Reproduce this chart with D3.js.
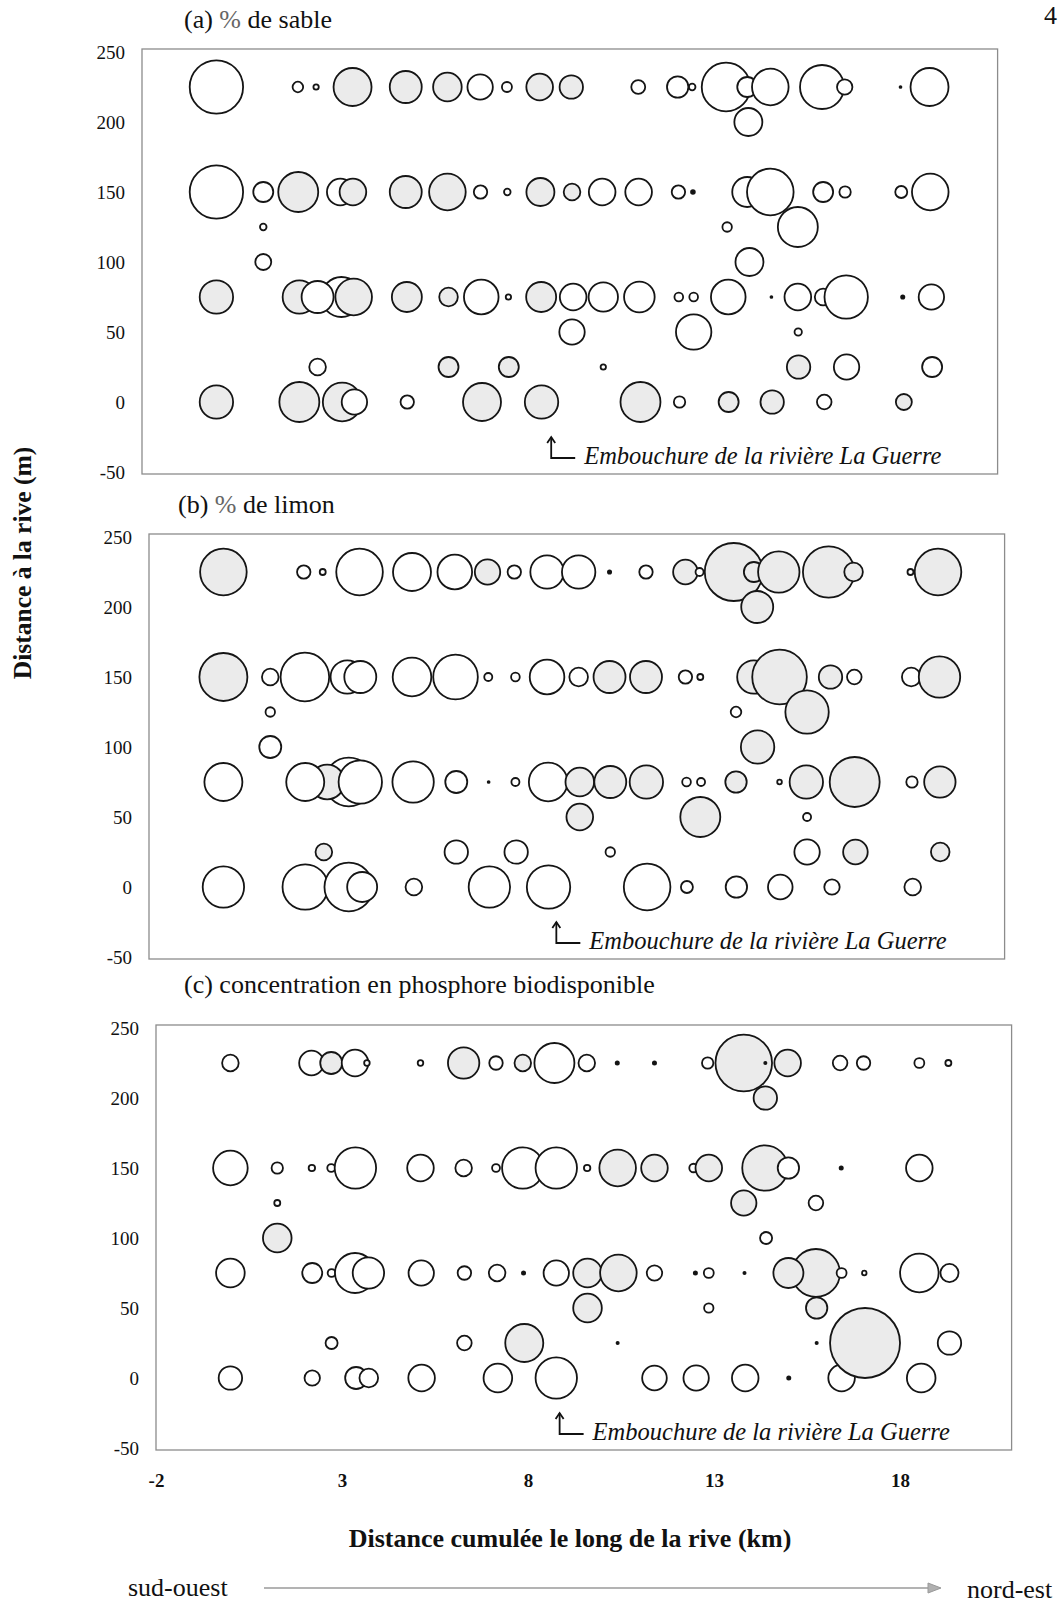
<!DOCTYPE html>
<html>
<head>
<meta charset="utf-8">
<script src="https://cdn.jsdelivr.net/npm/d3@7"></script>
<style>
  body { margin: 0; background: #fff; }
  svg text { font-family: "Liberation Serif", "Times New Roman", serif; fill: #111; }
</style>
</head>
<body>
<svg id="fig" width="1058" height="1604"></svg>
<script>
// Axis ticks
const xTicks = [-2, 3, 8, 13, 18];
const yTicks = [-50, 0, 50, 100, 150, 200, 250];

// Each sample: [distance along shore (km), distance from shore (m), value, shaded (1 = grey)]
// (a) % de sable
const sable = [
  [0, 225, 79.2, 0], [2.19, 225, 3.1, 0], [2.68, 225, 0.8, 0], [3.66, 225, 40.1, 1],
  [5.09, 225, 28.4, 1], [6.21, 225, 22.7, 1], [7.09, 225, 17.9, 0], [7.81, 225, 2.8, 0],
  [8.69, 225, 19.7, 1], [9.54, 225, 15.2, 1], [11.34, 225, 5.4, 0], [12.40, 225, 12.7, 0],
  [12.79, 225, 1.2, 0], [13.70, 225, 65.6, 0], [14.27, 225, 11.1, 0], [14.89, 225, 37.2, 0],
  [16.28, 225, 53.8, 0], [16.89, 225, 6.6, 0], [18.39, 225, 0.1, 0], [19.17, 225, 40.1, 0],
  [14.30, 200, 21.8, 0],
  [0, 150, 79.2, 0], [1.26, 150, 11.1, 0], [2.20, 150, 44.4, 1], [3.33, 150, 19.7, 0],
  [3.67, 150, 19.7, 1], [5.09, 150, 28.4, 1], [6.21, 150, 37.2, 1], [7.10, 150, 5.0, 0],
  [7.82, 150, 1.2, 0], [8.71, 150, 21.8, 1], [9.56, 150, 7.7, 1], [10.37, 150, 19.7, 0],
  [11.35, 150, 19.7, 0], [12.42, 150, 5.0, 0], [12.81, 150, 0.4, 0], [14.27, 150, 25.0, 0],
  [14.89, 150, 60.3, 0], [16.31, 150, 11.1, 0], [16.90, 150, 3.6, 0], [18.41, 150, 4.0, 0],
  [19.19, 150, 37.2, 0],
  [1.26, 125, 1.2, 0], [13.73, 125, 2.5, 0], [15.63, 125, 44.4, 0],
  [1.26, 100, 7.1, 0], [14.33, 100, 21.8, 0],
  [0, 75, 31.0, 1], [2.23, 75, 31.0, 1], [3.36, 75, 44.4, 0], [2.72, 75, 28.4, 0],
  [3.69, 75, 37.2, 1], [5.12, 75, 25.0, 1], [6.24, 75, 9.6, 1], [7.12, 75, 33.3, 0],
  [7.85, 75, 0.8, 0], [8.73, 75, 25.0, 1], [9.59, 75, 19.7, 0], [10.40, 75, 24.0, 0],
  [11.37, 75, 26.0, 0], [12.43, 75, 2.1, 0], [12.83, 75, 2.1, 0], [13.76, 75, 33.3, 0],
  [14.92, 75, 0.1, 0], [15.63, 75, 19.7, 0], [16.31, 75, 7.7, 0], [16.93, 75, 52.3, 0],
  [18.45, 75, 0.3, 0], [19.22, 75, 17.9, 0],
  [9.56, 50, 17.9, 0], [12.83, 50, 34.8, 0], [15.64, 50, 1.5, 0],
  [2.72, 25, 7.7, 0], [6.24, 25, 11.1, 1], [7.86, 25, 11.1, 1], [10.40, 25, 0.8, 0],
  [15.65, 25, 15.2, 1], [16.94, 25, 17.9, 0], [19.24, 25, 11.1, 0],
  [0, 0, 31.0, 1], [2.23, 0, 44.4, 1], [3.38, 0, 41.4, 1], [3.71, 0, 17.9, 0],
  [5.13, 0, 5.0, 0], [7.14, 0, 40.1, 1], [8.74, 0, 31.0, 1], [11.40, 0, 44.4, 1],
  [12.45, 0, 3.6, 0], [13.77, 0, 11.1, 1], [14.94, 0, 15.2, 1], [16.34, 0, 5.9, 0],
  [18.48, 0, 7.1, 1]
];

// (b) % de limon
const limon = [
  [0, 225, 60.3, 1], [2.16, 225, 5.0, 0], [2.67, 225, 1.0, 0], [3.66, 225, 60.3, 0],
  [5.07, 225, 40.1, 0], [6.22, 225, 33.3, 0], [7.10, 225, 17.9, 1], [7.82, 225, 5.0, 0],
  [8.70, 225, 31.0, 0], [9.55, 225, 31.0, 0], [10.38, 225, 0.3, 0], [11.36, 225, 5.0, 0],
  [12.42, 225, 16.8, 1], [12.80, 225, 1.8, 0], [13.72, 225, 93.4, 1], [14.26, 225, 11.1, 1],
  [14.93, 225, 47.6, 1], [16.27, 225, 73.4, 1], [16.94, 225, 9.6, 1], [18.47, 225, 1.0, 0],
  [19.21, 225, 60.3, 1],
  [14.35, 200, 28.4, 1],
  [0, 150, 64.0, 1], [1.26, 150, 7.7, 0], [2.19, 150, 65.6, 0], [3.33, 150, 31.0, 0],
  [3.68, 150, 28.4, 0], [5.07, 150, 41.4, 0], [6.24, 150, 55.3, 0], [7.12, 150, 1.8, 0],
  [7.85, 150, 2.1, 0], [8.70, 150, 33.3, 0], [9.55, 150, 9.6, 0], [10.38, 150, 28.4, 1],
  [11.36, 150, 28.4, 1], [12.42, 150, 5.0, 0], [12.82, 150, 1.0, 0], [14.26, 150, 31.0, 1],
  [14.95, 150, 82.8, 1], [16.32, 150, 15.2, 1], [16.96, 150, 5.9, 0], [18.49, 150, 9.6, 0],
  [19.25, 150, 47.6, 1],
  [1.26, 125, 2.5, 0], [13.78, 125, 3.1, 0], [15.69, 125, 52.3, 1],
  [1.26, 100, 13.4, 0], [14.36, 100, 31.0, 1],
  [0, 75, 40.1, 0], [3.37, 75, 65.6, 0], [2.79, 75, 33.3, 1], [2.20, 75, 40.1, 0],
  [3.68, 75, 52.3, 0], [5.10, 75, 47.6, 0], [6.26, 75, 13.4, 0], [7.13, 75, 0.1, 0],
  [7.85, 75, 1.8, 0], [8.73, 75, 41.4, 0], [9.58, 75, 22.7, 1], [10.40, 75, 28.4, 1],
  [11.37, 75, 31.0, 1], [12.45, 75, 2.1, 0], [12.84, 75, 1.8, 0], [13.78, 75, 12.7, 1],
  [14.95, 75, 0.6, 0], [15.67, 75, 31.0, 1], [16.97, 75, 69.4, 1], [18.51, 75, 3.6, 0],
  [19.26, 75, 27.4, 1],
  [9.58, 50, 19.7, 1], [12.82, 50, 44.4, 1], [15.69, 50, 1.8, 0],
  [2.70, 25, 7.7, 1], [6.26, 25, 15.2, 0], [7.87, 25, 15.2, 0], [10.40, 25, 2.5, 0],
  [15.69, 25, 17.9, 0], [16.99, 25, 16.8, 1], [19.27, 25, 9.6, 1],
  [0, 0, 47.6, 0], [2.20, 0, 57.3, 0], [3.37, 0, 65.6, 0], [3.73, 0, 25.0, 0],
  [5.12, 0, 7.7, 0], [7.15, 0, 47.6, 0], [8.74, 0, 52.3, 0], [11.39, 0, 60.3, 0],
  [12.46, 0, 4.0, 0], [13.79, 0, 12.7, 0], [14.97, 0, 16.8, 0], [16.36, 0, 6.6, 0],
  [18.53, 0, 7.7, 0]
];

// (c) concentration en phosphore biodisponible
const phosphore = [
  [0, 225, 5.3, 0], [2.18, 225, 11.7, 0], [2.71, 225, 9.3, 1], [3.35, 225, 13.6, 0],
  [3.67, 225, 0.6, 0], [5.11, 225, 0.6, 0], [6.27, 225, 19.0, 1], [7.14, 225, 3.5, 0],
  [7.86, 225, 5.3, 1], [8.71, 225, 30.9, 0], [9.58, 225, 5.3, 0], [10.40, 225, 0.2, 0],
  [11.40, 225, 0.2, 0], [12.83, 225, 2.5, 0], [13.80, 225, 61.8, 1], [14.38, 225, 0.1, 0],
  [14.98, 225, 13.6, 1], [16.39, 225, 4.1, 0], [17.02, 225, 3.5, 0], [18.52, 225, 1.9, 0],
  [19.30, 225, 0.7, 0],
  [14.38, 200, 10.6, 1],
  [0, 150, 23.1, 0], [1.26, 150, 2.5, 0], [2.19, 150, 0.8, 0], [2.71, 150, 1.2, 0],
  [3.36, 150, 33.1, 0], [5.11, 150, 13.6, 0], [6.27, 150, 5.3, 0], [7.14, 150, 1.2, 0],
  [7.86, 150, 33.1, 0], [8.76, 150, 33.1, 0], [9.59, 150, 0.8, 0], [10.41, 150, 25.8, 1],
  [11.40, 150, 13.6, 1], [12.45, 150, 1.4, 0], [12.86, 150, 13.6, 1], [14.37, 150, 39.8, 1],
  [15.00, 150, 8.8, 0], [16.42, 150, 0.2, 0], [18.52, 150, 13.6, 0],
  [1.26, 125, 0.7, 0], [13.80, 125, 12.4, 1], [15.74, 125, 4.1, 0],
  [1.26, 100, 15.8, 1], [14.40, 100, 2.8, 0],
  [0, 75, 15.8, 0], [2.20, 75, 7.7, 0], [2.72, 75, 1.2, 0], [3.35, 75, 30.9, 0],
  [3.71, 75, 19.0, 0], [5.13, 75, 12.4, 0], [6.29, 75, 3.5, 0], [7.17, 75, 5.3, 0],
  [7.88, 75, 0.2, 0], [8.76, 75, 12.4, 0], [9.60, 75, 15.8, 1], [10.43, 75, 25.8, 1],
  [11.40, 75, 4.6, 0], [12.50, 75, 0.2, 0], [12.86, 75, 1.9, 0], [13.82, 75, 0.1, 0],
  [15.74, 75, 44.4, 1], [15.00, 75, 17.4, 1], [16.43, 75, 1.9, 0], [17.04, 75, 0.4, 0],
  [18.52, 75, 28.7, 0], [19.33, 75, 6.3, 0],
  [9.60, 50, 15.8, 1], [12.86, 50, 1.7, 0], [15.76, 50, 8.8, 1],
  [0, 0, 10.6, 0], [2.20, 0, 4.6, 0], [3.38, 0, 9.3, 0], [3.72, 0, 6.7, 0],
  [5.14, 0, 13.6, 0], [7.19, 0, 15.8, 0], [8.76, 0, 33.1, 0], [11.40, 0, 11.7, 0],
  [12.52, 0, 12.4, 0], [13.84, 0, 13.6, 0], [15.01, 0, 0.2, 0], [16.43, 0, 13.6, 0],
  [18.57, 0, 15.8, 0],
  [2.72, 25, 2.8, 0], [6.29, 25, 4.1, 0], [7.90, 25, 27.9, 1], [10.41, 25, 0.1, 0],
  [15.76, 25, 0.1, 0], [17.06, 25, 94.5, 1], [19.33, 25, 10.6, 0]
];

// River mouth location (km), per panel
const embouchureKm = [9.0, 8.95, 8.85];

const svg = d3.select("#fig");
const boxW = 855.6, boxH = 425;
const tickFmt = d => String(d);   // plain hyphen for negatives

const panels = [
  { label: "(a) ", name: " de sable", data: sable, left: 142, top: 49, rMax: 30, tx: 184, ty: 28 },
  { label: "(b) ", name: " de limon", data: limon, left: 149, top: 534, rMax: 30, tx: 178, ty: 513 },
  { label: "(c) concentration en phosphore biodisponible", name: null, data: phosphore, left: 156, top: 1025, rMax: 36, tx: 184, ty: 993 }
];

panels.forEach((p, i) => {
  const x = d3.scaleLinear().domain([-2, 21]).range([p.left, p.left + boxW]);
  const y = d3.scaleLinear().domain([-50, 250]).range([p.top + 423, p.top + 3]);
  const r = d3.scaleSqrt().domain([0, 100]).range([0, p.rMax]);
  const g = svg.append("g");

  // panel title
  const t = g.append("text").attr("x", p.tx).attr("y", p.ty).attr("font-size", 26);
  t.append("tspan").text(p.label);
  if (p.name) {
    t.append("tspan").style("fill", "#666").text("%");
    t.append("tspan").text(p.name);
  }

  // frame
  g.append("rect")
    .attr("x", p.left).attr("y", p.top).attr("width", boxW).attr("height", boxH)
    .attr("fill", "none").attr("stroke", "#8c8c8c").attr("stroke-width", 1.3);

  // y axis labels
  const ya = g.append("g").attr("transform", `translate(${p.left},0)`)
    .call(d3.axisLeft(y).tickValues(yTicks).tickFormat(tickFmt).tickSize(0).tickPadding(17));
  ya.select(".domain").remove();
  ya.selectAll("text").attr("font-size", 19).style("font-family", '"Liberation Serif", serif').style("fill", "#111");

  // bubbles
  g.append("g").selectAll("circle").data(p.data).join("circle")
    .attr("cx", d => x(d[0]))
    .attr("cy", d => y(d[1]))
    .attr("r", d => r(d[2]))
    .attr("fill", d => r(d[2]) < 2.2 ? "#111" : (d[3] ? "#ebebeb" : "#fff"))
    .attr("stroke", "#151515")
    .attr("stroke-width", 1.8);

  // river mouth annotation
  const ax = x(embouchureKm[i]), bottom = p.top + boxH;
  const ann = g.append("g").attr("stroke", "#111").attr("stroke-width", 1.8).attr("fill", "none");
  ann.append("path").attr("d", `M${ax},${bottom - 37} V${bottom - 16} H${ax + 24}`);
  ann.append("path").attr("d", `M${ax - 4},${bottom - 31} L${ax},${bottom - 37} L${ax + 4},${bottom - 31}`);
  g.append("text").attr("x", ax + 33).attr("y", bottom - 10)
    .attr("font-size", 24.5).attr("font-style", "italic")
    .text("Embouchure de la rivière La Guerre");

  // x axis only under the last panel
  if (i === panels.length - 1) {
    const xa = g.append("g").attr("transform", `translate(0,${bottom})`)
      .call(d3.axisBottom(x).tickValues(xTicks).tickFormat(tickFmt).tickSize(0).tickPadding(24));
    xa.select(".domain").remove();
    xa.selectAll("text").attr("font-size", 19).style("font-family", '"Liberation Serif", serif')
      .style("font-weight", "bold").style("fill", "#111");
  }
});

// axis titles
svg.append("text").attr("x", 570).attr("y", 1547).attr("text-anchor", "middle")
  .attr("font-size", 26).attr("font-weight", "bold")
  .text("Distance cumulée le long de la rive (km)");
svg.append("text").attr("transform", "translate(31,563) rotate(-90)").attr("text-anchor", "middle")
  .attr("font-size", 25.5).attr("font-weight", "bold")
  .text("Distance à la rive (m)");

// direction along the shore
svg.append("text").attr("x", 128).attr("y", 1596).attr("font-size", 26).text("sud-ouest");
svg.append("text").attr("x", 967).attr("y", 1598).attr("font-size", 26).text("nord-est");
svg.append("line").attr("x1", 264).attr("x2", 930).attr("y1", 1588).attr("y2", 1588)
  .attr("stroke", "#9a9a9a").attr("stroke-width", 1.5);
svg.append("path").attr("d", "M928,1583 L941,1588 L928,1593 Z").attr("fill", "#b0b0b0").attr("stroke", "#999");

// page number
svg.append("text").attr("x", 1044).attr("y", 24).attr("font-size", 26).text("4");
</script>
</body>
</html>
